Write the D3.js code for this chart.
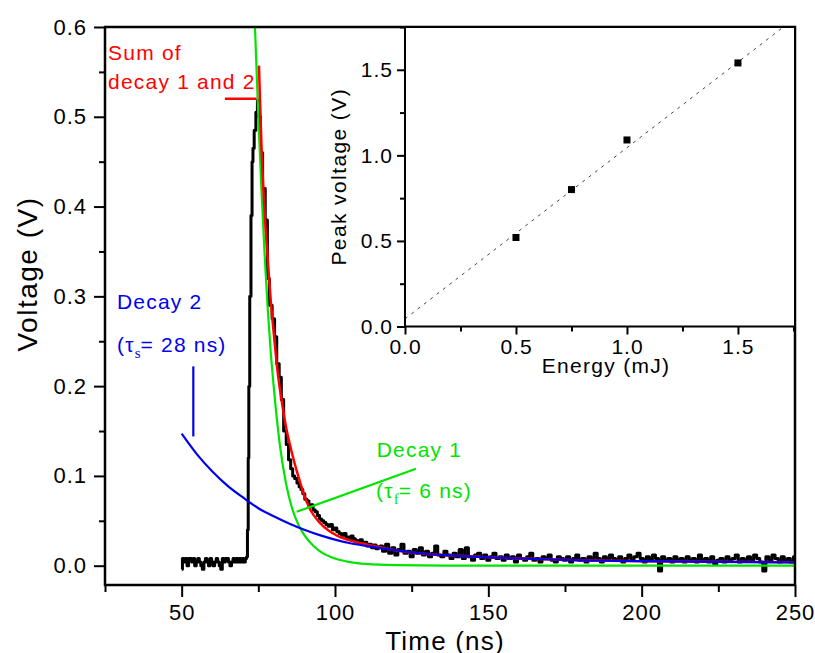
<!DOCTYPE html>
<html>
<head>
<meta charset="utf-8">
<script src="https://cdn.jsdelivr.net/npm/d3@7"></script>
<style>
  body { margin: 0; background: #fff; }
  svg text { font-family: "Liberation Sans", Arial, sans-serif; }
</style>
</head>
<body>
<div id="chart"></div>
<script>
// ---- data ----
// black trace: baseline before the pulse, sampled every 0.5 ns from 50 ns (mV)
var baselineStart = 50, baselineStep = 0.5;
var baselineMv = [-4, 8, 4, 8, 0, 8, 8, 4, 8, 0, 4, 8, 4, 0, -4, 4, 8, 4, 0, 8, 4, 0,
  4, 8, 4, 0, -4, 8, 4, 8, 8, 4, 0, 4, 8, 4, 8, 4, 8, 4, 8, 4, 8];
// rise, peak and decay of the pulse [ns, mV]
var pulse = [[71.3, 10], [71.6, 40], [71.8, 120], [72.0, 200], [72.4, 300], [72.8, 390], [73.1, 450],
  [73.4, 465], [73.9, 485], [74.5, 505], [74.9, 518], [75.4, 500], [76.0, 460], [76.8, 420],
  [77.7, 385], [78.2, 320], [79.0, 290], [80.0, 275], [80.6, 255], [81.4, 225], [82.2, 210],
  [82.8, 185], [83.7, 150], [84.5, 135], [85.2, 118], [85.9, 108], [86.5, 100], [87.2, 97],
  [88.0, 92], [88.6, 88], [89.2, 85], [89.8, 80], [90.5, 74], [91.2, 72], [91.8, 66], [92.5, 68],
  [93.2, 62], [93.9, 60], [94.6, 56], [95.3, 52], [96.0, 50], [96.7, 48], [97.4, 46], [98.1, 44],
  [98.8, 46], [99.5, 40], [100.2, 42], [101.0, 38], [101.7, 36], [102.5, 34], [103.2, 36],
  [104.0, 32], [104.8, 30], [105.5, 33], [106.3, 30], [107.0, 28], [107.8, 26], [108.5, 29],
  [109.3, 24], [110.0, 26], [110.8, 22], [111.5, 24], [112.3, 20], [113.0, 23], [113.8, 19], [114.5, 21]];
// tail, sampled every 1 ns from 115 ns (mV)
var tailStart = 115, tailStep = 1;
var tailMv = [22, 16, 24, 14, 20, 12, 18, 24, 14, 16, 10, 18, 14, 20, 12, 16, 10, 14, 22, 12,
  10, 16, 12, 8, 14, 10, 18, 8, 20, 10, 6, 12, 14, 8, 12, 6, 10, 14, 8, 10,
  6, 12, 8, 10, 4, 12, 8, 6, 10, 14, 6, 8, 4, 10, 8, 12, 6, 4, 10, 8,
  6, 10, 4, 8, 12, 6, 8, 4, 10, 6, 14, 8, 4, 10, 6, 12, 8, 6, 10, 4,
  8, 12, 6, 10, 14, 8, 4, 10, 6, 12, 8, -6, 10, 6, 8, 4, 10, 6, 8, 4,
  10, 6, 8, 4, 12, 6, 8, 4, 10, 2, 6, 8, 4, 10, 6, 8, 12, 4, 8, 6,
  10, 6, 12, 8, 4, -6, 10, 6, 12, 8, 4, 10, 6, 8, 4, 10];

// fitted decays [ns, V]
var decay1 = [[73.9, 0.60], [75, 0.50], [76, 0.42], [77, 0.35], [78, 0.29], [79, 0.24], [80, 0.20],
  [82, 0.135], [84, 0.092], [86, 0.064], [88, 0.046], [90, 0.034], [93, 0.022], [96, 0.014],
  [100, 0.008], [105, 0.004], [110, 0.002], [120, 0.0006], [140, 0], [250, 0]];
var decay2 = [[50, 0.147], [55, 0.124], [60, 0.105], [65, 0.089], [70, 0.076], [75, 0.064],
  [80, 0.055], [85, 0.047], [90, 0.040], [95, 0.034], [100, 0.029], [105, 0.025], [110, 0.022],
  [120, 0.017], [130, 0.013], [140, 0.011], [150, 0.0093], [160, 0.008], [180, 0.006],
  [200, 0.005], [225, 0.0043], [250, 0.0038]];
var decaySum = [[75.2, 0.557], [76, 0.47], [77.2, 0.385], [78, 0.345], [79.3, 0.285], [80, 0.26],
  [81.5, 0.21], [82.6, 0.184], [84, 0.155], [86, 0.125], [88, 0.100], [90, 0.078], [92, 0.062],
  [95, 0.048], [98, 0.039], [101, 0.033], [105, 0.028], [110, 0.024], [114, 0.021], [120, 0.017],
  [130, 0.013], [140, 0.011], [150, 0.0093], [160, 0.008], [180, 0.006], [200, 0.005],
  [225, 0.0043], [250, 0.0038]];

// inset: peak voltage vs energy
var energy = [0.5, 0.75, 1.0, 1.5];
var peakVoltage = [0.52, 0.80, 1.09, 1.54];
var fitLine = [[0, 0.045], [1.705, 1.75]];

// ticks
var xTicks = [50, 100, 150, 200, 250];
var xMinor = [25, 75, 125, 175, 225];
var yTicks = [0, 0.1, 0.2, 0.3, 0.4, 0.5, 0.6];
var yMinor = [0.05, 0.15, 0.25, 0.35, 0.45, 0.55];
var insetXTicks = [0, 0.5, 1.0, 1.5];
var insetXMinor = [0.25, 0.75, 1.25, 1.75];
var insetYTicks = [0, 0.5, 1.0, 1.5];
var insetYMinor = [0.25, 0.75, 1.25, 1.75];

// ---- build the black trace ----
var signal = [];
baselineMv.forEach(function(v, i) { signal.push([baselineStart + i * baselineStep, v / 1000]); });
pulse.forEach(function(p) { signal.push([p[0], p[1] / 1000]); });
tailMv.forEach(function(v, i) { signal.push([tailStart + i * tailStep, v / 1000]); });

var width = 815, height = 653;
var svg = d3.select("#chart").append("svg")
  .attr("width", width)
  .attr("height", height);
svg.append("rect").attr("width", width).attr("height", height).attr("fill", "#fff");

var x = d3.scaleLinear().domain([25, 250]).range([105, 795]);
var y = d3.scaleLinear().domain([-0.0215, 0.6]).range([585, 27]);

svg.append("defs").append("clipPath").attr("id", "plotClip")
  .append("rect")
    .attr("x", x(25)).attr("y", y(0.6))
    .attr("width", x(250) - x(25)).attr("height", y(-0.0215) - y(0.6));

function styleAxis(g, size, spacing) {
  g.select(".domain").remove();
  g.selectAll("line").attr("stroke", "#000").attr("stroke-width", 2);
  g.selectAll("text")
    .attr("fill", "#000")
    .style("font-family", "'Liberation Sans', Arial, sans-serif")
    .style("font-size", size + "px")
    .style("letter-spacing", spacing + "px");
}

// main axes
svg.append("g").attr("transform", "translate(0," + y(-0.0215) + ")")
  .call(d3.axisBottom(x).tickValues(xMinor).tickSize(7).tickFormat(""))
  .call(styleAxis, 22, 1);
svg.append("g").attr("transform", "translate(0," + y(-0.0215) + ")")
  .call(d3.axisBottom(x).tickValues(xTicks).tickSize(12).tickPadding(7).tickFormat(d3.format("d")))
  .call(styleAxis, 22, 1);
svg.append("g").attr("transform", "translate(" + x(25) + ",0)")
  .call(d3.axisLeft(y).tickValues(yMinor).tickSize(6).tickFormat(""))
  .call(styleAxis, 22, 1);
svg.append("g").attr("transform", "translate(" + x(25) + ",0)")
  .call(d3.axisLeft(y).tickValues(yTicks).tickSize(11).tickPadding(7).tickFormat(d3.format(".1f")))
  .call(styleAxis, 22, 1);

svg.append("text")
  .attr("transform", "translate(37," + 274 + ") rotate(-90)")
  .attr("text-anchor", "middle")
  .style("font-size", "28px")
  .style("letter-spacing", "1.5px")
  .text("Voltage (V)");
svg.append("text")
  .attr("x", 445).attr("y", 650)
  .attr("text-anchor", "middle")
  .style("font-size", "26px")
  .style("letter-spacing", "1.2px")
  .text("Time (ns)");

// curves
var plot = svg.append("g").attr("clip-path", "url(#plotClip)");
var line = d3.line()
  .x(function(d) { return x(d[0]); })
  .y(function(d) { return y(d[1]); });

plot.append("path")
  .datum(signal)
  .attr("fill", "none")
  .attr("stroke", "#000")
  .attr("stroke-width", 3)
  .attr("stroke-linejoin", "round")
  .attr("d", line.curve(d3.curveStep));

line.curve(d3.curveMonotoneX);
plot.append("path").datum(decay1)
  .attr("fill", "none").attr("stroke", "#00e400").attr("stroke-width", 2.2)
  .attr("d", line);
plot.append("path").datum(decaySum)
  .attr("fill", "none").attr("stroke", "#ff0000").attr("stroke-width", 2.5)
  .attr("d", line);
plot.append("path").datum(decay2)
  .attr("fill", "none").attr("stroke", "#0000f0").attr("stroke-width", 2.2)
  .attr("d", line);

// annotations (positions in data units)
svg.append("line")
  .attr("x1", x(64.1)).attr("x2", x(74.4)).attr("y1", y(0.52)).attr("y2", y(0.52))
  .attr("stroke", "#ff0000").attr("stroke-width", 2.5);
svg.append("line")
  .attr("x1", x(53.8)).attr("x2", x(53.8)).attr("y1", y(0.222)).attr("y2", y(0.144))
  .attr("stroke", "#0000f0").attr("stroke-width", 2.2);
svg.append("line")
  .attr("x1", x(87.5)).attr("x2", x(126.4)).attr("y1", y(0.060)).attr("y2", y(0.108))
  .attr("stroke", "#00e400").attr("stroke-width", 2.2);

function label(tx, ty, color, text) {
  return svg.append("text")
    .attr("x", x(tx)).attr("y", y(ty))
    .attr("fill", color)
    .style("font-size", "21px")
    .style("letter-spacing", "1.2px")
    .text(text);
}
label(26, 0.563, "#ff0000", "Sum of");
label(26, 0.531, "#ff0000", "decay 1 and 2");
label(28.9, 0.286, "#0000f0", "Decay 2");
label(113.6, 0.121, "#00e400", "Decay 1");

function tauLabel(tx, ty, color, sub, rest) {
  var t = label(tx, ty, color, "(\u03c4");
  t.append("tspan")
    .attr("dy", 6)
    .style("font-family", "'Liberation Serif', 'Times New Roman', serif")
    .style("font-size", "15px")
    .style("letter-spacing", "0px")
    .text(sub);
  t.append("tspan").attr("dy", -6).text(rest);
}
tauLabel(28.9, 0.238, "#0000f0", "s", "= 28 ns)");
tauLabel(113.4, 0.0754, "#00e400", "f", "= 6 ns)");

// main frame
svg.append("rect")
  .attr("x", x(25)).attr("y", y(0.6))
  .attr("width", x(250) - x(25)).attr("height", y(-0.0215) - y(0.6))
  .attr("fill", "none").attr("stroke", "#000").attr("stroke-width", 2.5);

// ---- inset ----
var ix = d3.scaleLinear().domain([0, 1.757]).range([405, 795]);
var iy = d3.scaleLinear().domain([0, 1.75]).range([326.5, 27]);

svg.append("rect")
  .attr("x", ix(0)).attr("y", iy(1.75))
  .attr("width", ix(1.757) - ix(0)).attr("height", iy(0) - iy(1.75))
  .attr("fill", "#fff");

svg.append("g").attr("transform", "translate(0," + iy(0) + ")")
  .call(d3.axisBottom(ix).tickValues(insetXMinor).tickSize(5).tickFormat(""))
  .call(styleAxis, 21, 1);
svg.append("g").attr("transform", "translate(0," + iy(0) + ")")
  .call(d3.axisBottom(ix).tickValues(insetXTicks).tickSize(8).tickPadding(5).tickFormat(d3.format(".1f")))
  .call(styleAxis, 21, 1);
svg.append("g").attr("transform", "translate(" + ix(0) + ",0)")
  .call(d3.axisLeft(iy).tickValues(insetYMinor).tickSize(5).tickFormat(""))
  .call(styleAxis, 21, 1);
svg.append("g").attr("transform", "translate(" + ix(0) + ",0)")
  .call(d3.axisLeft(iy).tickValues(insetYTicks).tickSize(8).tickPadding(4).tickFormat(d3.format(".1f")))
  .call(styleAxis, 21, 1);

svg.append("text")
  .attr("x", 606).attr("y", 373)
  .attr("text-anchor", "middle")
  .style("font-size", "21px")
  .style("letter-spacing", "1.3px")
  .text("Energy (mJ)");
svg.append("text")
  .attr("transform", "translate(346," + (iy(0) + iy(1.75)) / 2 + ") rotate(-90)")
  .attr("text-anchor", "middle")
  .style("font-size", "21px")
  .style("letter-spacing", "1.4px")
  .text("Peak voltage (V)");

svg.append("path")
  .datum(fitLine)
  .attr("fill", "none")
  .attr("stroke", "#444")
  .attr("stroke-width", 1)
  .attr("stroke-dasharray", "3,5")
  .attr("d", d3.line().x(function(d) { return ix(d[0]); }).y(function(d) { return iy(d[1]); }));

svg.selectAll(".pt")
  .data(energy)
  .enter().append("rect")
    .attr("class", "pt")
    .attr("x", function(d) { return ix(d) - 3.5; })
    .attr("y", function(d, i) { return iy(peakVoltage[i]) - 3.5; })
    .attr("width", 7).attr("height", 7)
    .attr("fill", "#000");

svg.append("rect")
  .attr("x", ix(0)).attr("y", iy(1.75))
  .attr("width", ix(1.757) - ix(0)).attr("height", iy(0) - iy(1.75))
  .attr("fill", "none").attr("stroke", "#000").attr("stroke-width", 2);
</script>
</body>
</html>
